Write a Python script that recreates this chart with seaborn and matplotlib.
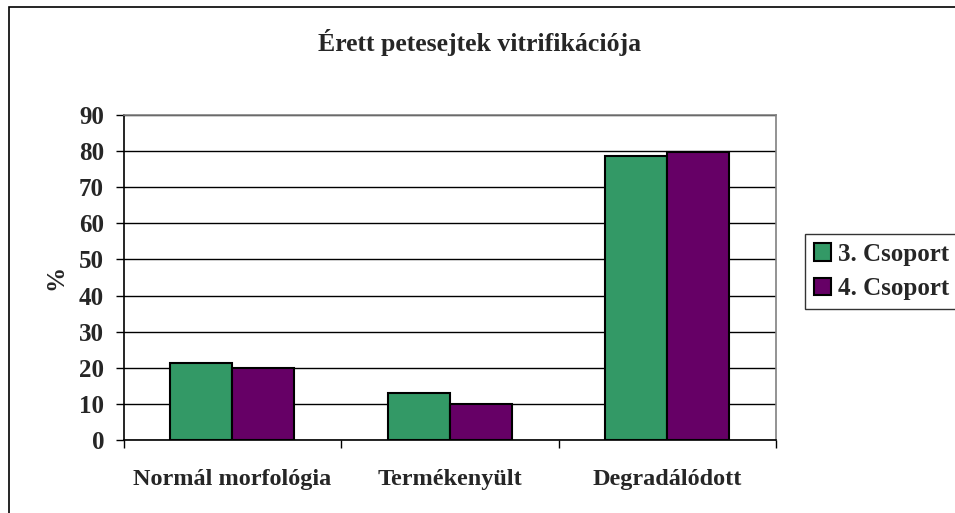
import matplotlib
matplotlib.use("Agg")
import matplotlib.pyplot as plt
import seaborn as sns
import pandas as pd
from matplotlib.patches import Rectangle

categories = ["Normál morfológia", "Termékenyült", "Degradálódott"]
groups = ["3. Csoport", "4. Csoport"]
group3 = [21.3, 12.9, 78.7]
group4 = [20.0, 10.0, 79.8]
yticks = [0, 10, 20, 30, 40, 50, 60, 70, 80, 90]
colors = ["#339966", "#660066"]

df = pd.DataFrame({
    "cat": categories * 2,
    "grp": [groups[0]] * 3 + [groups[1]] * 3,
    "val": group3 + group4,
})

sns.set_theme(style="white")
plt.rcParams["font.family"] = ["Liberation Serif", "DejaVu Serif"]
plt.rcParams["font.weight"] = "bold"

W, H = 955, 513
fig = plt.figure(figsize=(W / 100, H / 100), dpi=100)
fig.patch.set_facecolor("white")
ax = fig.add_axes([123.5 / W, 1 - 440 / H, (776 - 123.5) / W, (440 - 115) / H])

sns.barplot(data=df, x="cat", y="val", hue="grp", order=categories, hue_order=groups,
            palette=colors, width=0.57, gap=0, edgecolor="black", linewidth=1.5,
            saturation=1, ax=ax, zorder=3, legend=True)

ax.set_xlim(-0.5, 2.5)
ax.set_ylim(0, 90)
ax.set_yticks(yticks)
ax.set_yticklabels([str(t) for t in yticks], fontsize=18, fontweight="bold")
ax.yaxis.grid(True, color="black", linewidth=1, zorder=0)
ax.set_axisbelow(True)
ax.tick_params(axis="y", which="major", direction="out", length=6, width=1,
               color="black", pad=8, left=True)
ax.set_xticks(range(3))
ax.set_xticklabels(categories, fontsize=17.5, fontweight="bold")
ax.set_xticks([-0.5, 0.5, 1.5, 2.5], minor=True)
ax.tick_params(axis="x", which="major", length=0, pad=21)
ax.tick_params(axis="x", which="minor", direction="out", length=6, width=1,
               color="black", bottom=True)
ax.set_xlabel("")
ax.set_ylabel("%", fontsize=18, fontweight="bold", labelpad=8)

for s in ["left", "bottom"]:
    ax.spines[s].set_color("black")
    ax.spines[s].set_linewidth(1.2)
for s in ["top", "right"]:
    ax.spines[s].set_color("#808080")
    ax.spines[s].set_linewidth(1.2)

fig.text(480 / W, 1 - 43 / H, "Érett petesejtek vitrifikációja", fontsize=18.5,
         fontweight="bold", ha="center", va="center")

handles, labels = ax.get_legend_handles_labels()
leg = ax.legend(handles, labels, loc="upper left",
                bbox_to_anchor=(805 / W, 1 - 234 / H), bbox_transform=fig.transFigure,
                frameon=True, fancybox=False, shadow=False, handlelength=0.7,
                handleheight=0.7, handletextpad=0.25, borderpad=0.35, labelspacing=0.45,
                borderaxespad=0,
                prop={"family": "Liberation Serif", "weight": "bold", "size": 18})
leg.get_frame().set_edgecolor("black")
leg.get_frame().set_linewidth(1)

fig.add_artist(Rectangle((9 / W, -0.1), 1.2, 1 - 7 / H + 0.1, transform=fig.transFigure,
                         fill=False, edgecolor="black", linewidth=1.2))

fig.savefig("out.png", dpi=100, facecolor="white")
